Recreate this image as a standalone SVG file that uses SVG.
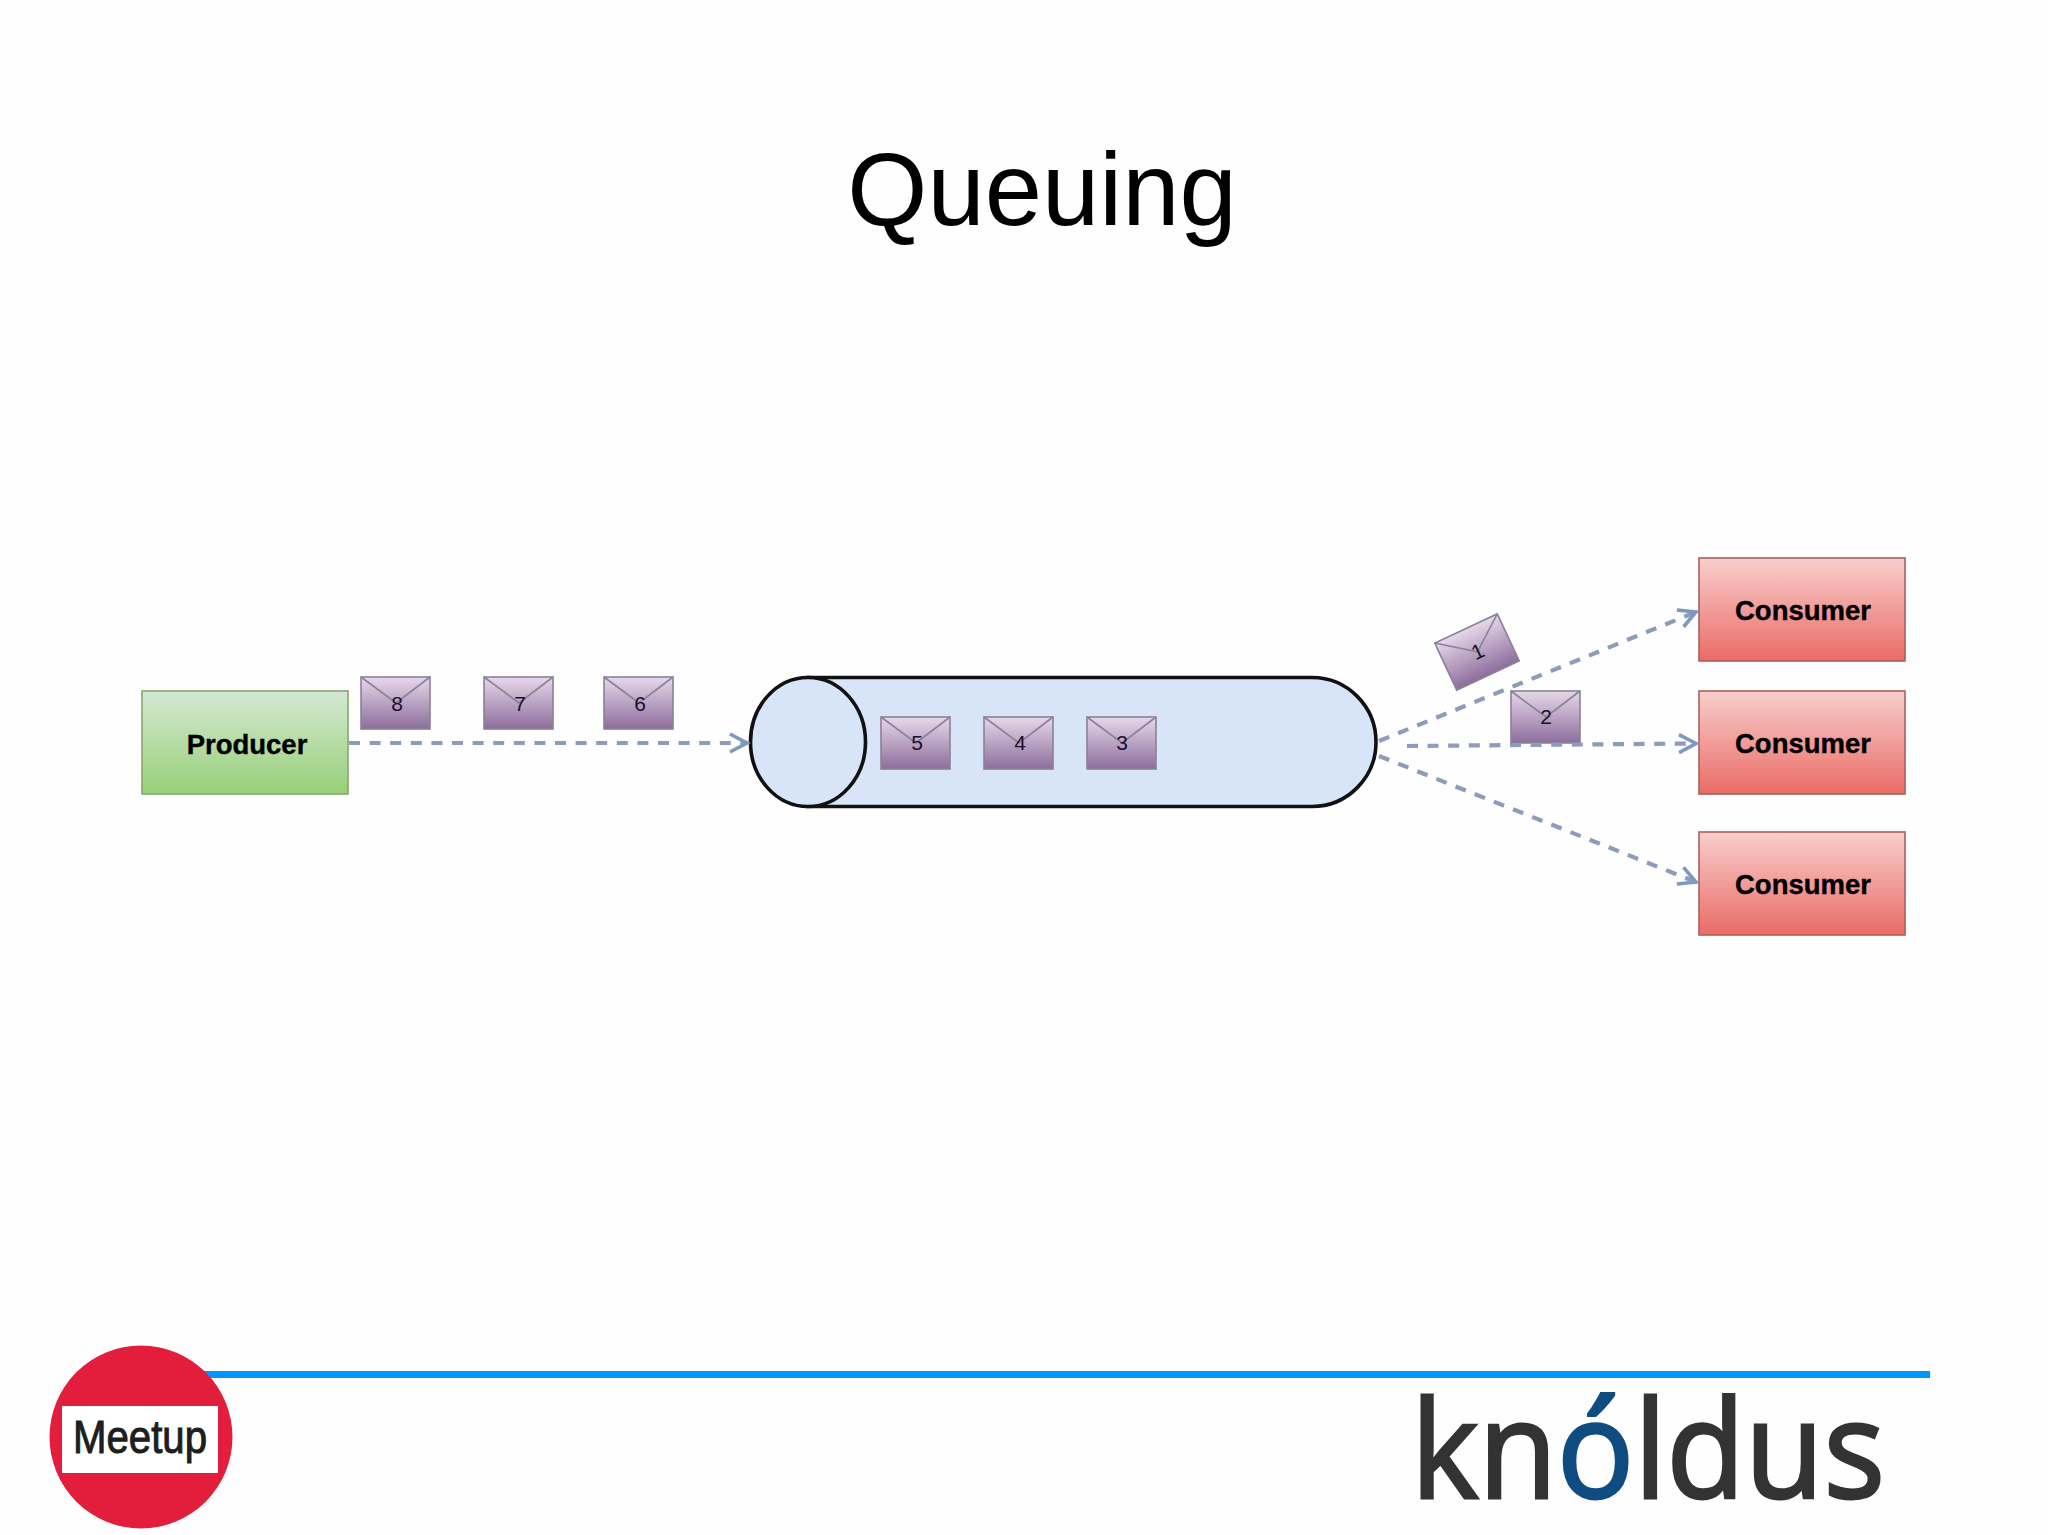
<svg xmlns="http://www.w3.org/2000/svg" width="2048" height="1535" viewBox="0 0 2048 1535">
<style>
text{font-family:"Liberation Sans",Arial,sans-serif}
.box{font-size:27.5px;font-weight:700;fill:#000;text-anchor:middle;stroke:#000;stroke-width:.4}
.num{font-size:21px;fill:#1c0f2e;text-anchor:middle}
.conn{fill:none;stroke:#8c9cba;stroke-width:4.2;stroke-dasharray:11 9.6;marker-end:url(#arr)}
.tube{fill:#d8e5f9;stroke:#111;stroke-width:3.6}
</style>
<defs>
<linearGradient id="gG" x1="0" y1="0" x2="0" y2="1"><stop offset="0" stop-color="#d5e8d4"/><stop offset="1" stop-color="#97d077"/></linearGradient>
<linearGradient id="gR" x1="0" y1="0" x2="0" y2="1"><stop offset="0" stop-color="#f8cecc"/><stop offset="1" stop-color="#ea6b66"/></linearGradient>
<linearGradient id="gP" x1="0" y1="0" x2="0" y2="1"><stop offset="0" stop-color="#e6d8ea"/><stop offset="1" stop-color="#8c6d9c"/></linearGradient>
<marker id="arr" markerUnits="userSpaceOnUse" markerWidth="24" markerHeight="24" refX="20" refY="12" orient="auto"><path d="M3 3L20 12L3 21" fill="none" stroke="#7f98bd" stroke-width="3.6"/></marker>
<g id="env"><rect width="69" height="52" fill="url(#gP)" stroke="#8b8098" stroke-width="1.6"/><path d="M0 0L35 26L69 0" fill="none" stroke="#8b8098" stroke-width="1.6"/></g>
</defs>
<rect width="2048" height="1535" fill="#fefefe"/>
<text id="title" x="1042" y="225" font-size="103" text-anchor="middle" fill="#000">Queuing</text>
<g id="queue">
<path class="tube" d="M808 677.500H1312A64 64.500 0 0 1 1312 806.500H808Z"/>
<ellipse class="tube" cx="808" cy="742" rx="57.500" ry="64.500"/>
</g>
<g id="producer"><rect x="142" y="691" width="206" height="103" fill="url(#gG)" stroke="#86a870" stroke-width="1.6"/><text class="box" x="247" y="754">Producer</text></g>
<g id="consumer1"><rect x="1699" y="558" width="206" height="103" fill="url(#gR)" stroke="#a8605c" stroke-width="1.6"/><text class="box" x="1803" y="620">Consumer</text></g>
<g id="consumer2"><rect x="1699" y="691" width="206" height="103" fill="url(#gR)" stroke="#a8605c" stroke-width="1.6"/><text class="box" x="1803" y="753">Consumer</text></g>
<g id="consumer3"><rect x="1699" y="832" width="206" height="103" fill="url(#gR)" stroke="#a8605c" stroke-width="1.6"/><text class="box" x="1803" y="894">Consumer</text></g>
<g id="msg8"><use href="#env" x="361" y="677"/><text class="num" x="397" y="711">8</text></g>
<g id="msg7"><use href="#env" x="484" y="677"/><text class="num" x="520" y="711">7</text></g>
<g id="msg6"><use href="#env" x="604" y="677"/><text class="num" x="640" y="711">6</text></g>
<g id="msg5"><use href="#env" x="881" y="717"/><text class="num" x="917" y="750">5</text></g>
<g id="msg4"><use href="#env" x="984" y="717"/><text class="num" x="1020" y="750">4</text></g>
<g id="msg3"><use href="#env" x="1087" y="717"/><text class="num" x="1122" y="750">3</text></g>
<g id="msg2"><use href="#env" x="1511" y="691"/><text class="num" x="1546" y="724">2</text></g>
<g id="msg1" transform="rotate(-25 1477 652)"><use href="#env" x="1442.500" y="626"/><text class="num" x="1478" y="659">1</text></g>
<g id="connectors">
<path class="conn" d="M349 743H747"/>
<path class="conn" d="M1379 741L1696 612"/>
<path class="conn" d="M1407 746L1696 743.500"/>
<path class="conn" d="M1379 756L1696 882"/>
</g>
<g id="footer-line"><rect x="200" y="1371" width="1730" height="7" fill="#0095ff"/></g>
<g id="meetup">
<circle cx="141" cy="1437" r="91.500" fill="#e31e3c"/>
<rect x="62" y="1406" width="156" height="67" fill="#fff"/>
<text x="73" y="1453" font-size="46" textLength="134" lengthAdjust="spacingAndGlyphs" fill="#1e1e1e" stroke="#1e1e1e" stroke-width="1" style="font-family:'Liberation Sans',sans-serif">Meetup</text>
</g>
<g id="knoldus">
<text transform="translate(1411 1498) scale(.95 1)" font-size="135" fill="#333" stroke="#333" stroke-width="3" style="font-family:'Open Sans',sans-serif">kn<tspan fill="#0f4c81" stroke="#0f4c81">ó</tspan>ldus</text>
</g>
</svg>
